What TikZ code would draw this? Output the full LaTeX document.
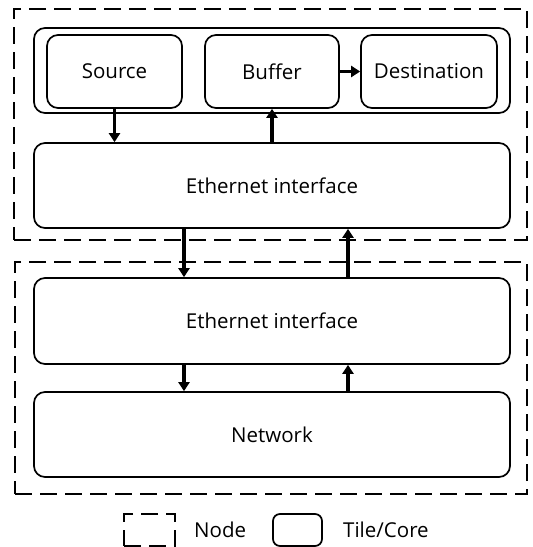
\documentclass[tikz,border=0pt]{standalone}
\usepackage{fontspec}
\setmainfont{Open Sans}
\usetikzlibrary{arrows.meta,calc}
\begin{document}
\begin{tikzpicture}[x=1pt,y=-1pt,
  every node/.style={font=\fontsize{20.5}{24}\selectfont},
  tile/.style={draw,line width=1.7pt,rounded corners=11pt,inner sep=0pt},
  group/.style={draw,line width=2.6pt,dash pattern=on 17pt off 8pt,inner sep=0pt},
  flow/.style={line width=3.2pt,-{Triangle[width=11pt,length=9pt]}},
  lbl/.style={inner sep=0pt}]
\useasboundingbox (0,0) rectangle (533,547);
% node boundaries (dashed)
\node[group,minimum width=513pt,minimum height=231pt] (nodeA) at (270.5,124.5) {};
\node[group,minimum width=512pt,minimum height=232pt] (nodeB) at (271,378) {};
% tiles of the upper node
\node[tile,minimum width=476pt,minimum height=85pt] (grp) at (272,70.5) {};
\node[tile,minimum width=135pt,minimum height=73pt] (src) at (114.5,71.5) {Source};
\node[tile,minimum width=134pt,minimum height=73pt] (buf) at (272,71.5) {Buffer};
\node[tile,minimum width=136pt,minimum height=73pt] (dst) at (429,71.5) {Destination};
\node[tile,minimum width=476pt,minimum height=85pt] (eth1) at (272,185.5) {Ethernet interface};
% tiles of the lower node
\node[tile,minimum width=476pt,minimum height=86pt] (eth2) at (272,321) {Ethernet interface};
\node[tile,minimum width=476pt,minimum height=85pt] (net) at (272,434.5) {Network};
% arrow columns
\coordinate (xdn) at (184,0);
\coordinate (xup) at (348,0);
% connectors
\draw[flow] (src.south) -- (src.south |- eth1.north);
\draw[flow] (buf.south |- eth1.north) -- (buf.south);
\draw[flow] (buf.east) -- (dst.west);
\draw[flow] (eth1.south -| xdn) -- (eth2.north -| xdn);
\draw[flow] (eth2.north -| xup) -- (eth1.south -| xup);
\draw[flow] (eth2.south -| xdn) -- (net.north -| xdn);
\draw[flow] (net.north -| xup) -- (eth2.south -| xup);
% legend
\node[group,minimum width=51pt,minimum height=32pt] (legA) at (149.5,530) {};
\node[lbl,anchor=west] (legAt) at (194,530) {Node};
\node[tile,rounded corners=7pt,minimum width=49pt,minimum height=32pt] (legB) at (297.5,530) {};
\node[lbl,anchor=west] (legBt) at (343,530) {Tile/Core};
\end{tikzpicture}
\end{document}
